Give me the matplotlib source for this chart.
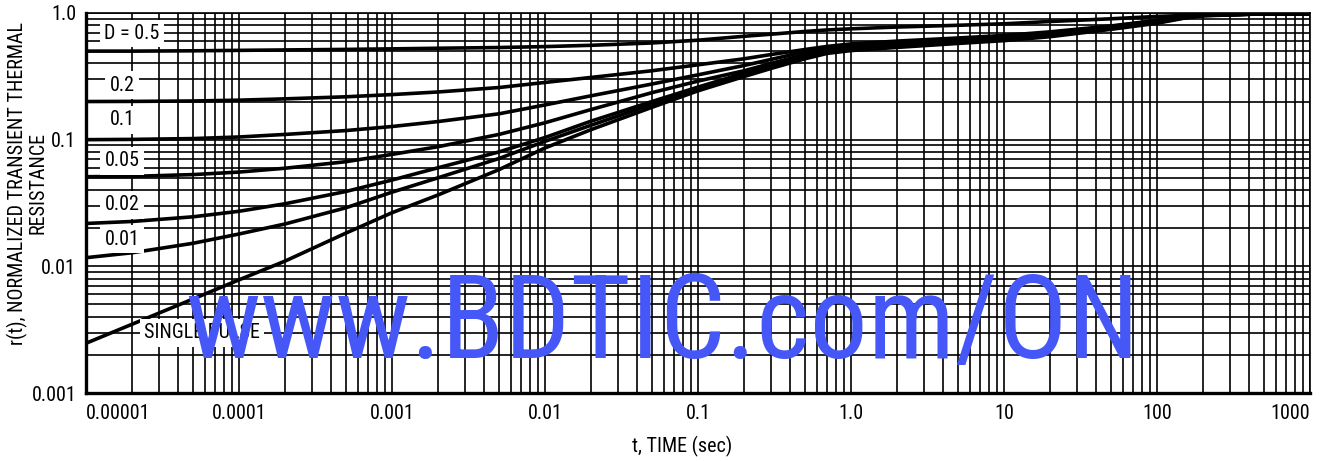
import numpy as np
import matplotlib
matplotlib.use("Agg")
import matplotlib.pyplot as plt
from matplotlib import font_manager as fm
from matplotlib.ticker import LogLocator, NullFormatter

# pick a narrow sans if one is installed, otherwise Arial-like Liberation Sans
avail = {f.name for f in fm.fontManager.ttflist}
FONT = 'Liberation Sans'
SCALE = 1.0
for cand in ['Liberation Sans Narrow', 'Arial Narrow', 'Roboto Condensed']:
    if cand in avail:
        FONT = cand
        SCALE = 1.15
        break
plt.rcParams['font.family'] = [FONT, 'DejaVu Sans']

# time axis (sec) and r(t) for each duty cycle
t = [1e-5, 2e-5, 5e-5, 1e-4, 2e-4, 5e-4, 1e-3, 2e-3, 5e-3, 1e-2, 2e-2, 5e-2,
     0.1, 0.2, 0.3, 0.5, 0.7, 1, 2, 5, 10, 20, 50, 100, 150, 200, 500, 1000]
r_d50 = [0.500, 0.500, 0.503, 0.507, 0.511, 0.516, 0.521, 0.527, 0.534, 0.543, 0.556, 0.58,
         0.61, 0.655, 0.68, 0.715, 0.735, 0.75, 0.775, 0.80, 0.822, 0.857, 0.90, 0.94, 0.955, 0.97, 0.985, 0.985]
r_d20 = [0.200, 0.2005, 0.202, 0.205, 0.210, 0.218, 0.227, 0.238, 0.258, 0.283, 0.31, 0.35,
         0.39, 0.435, 0.47, 0.515, 0.545, 0.57, 0.60, 0.635, 0.665, 0.71, 0.79, 0.875, 0.935, 0.965, 0.985, 0.985]
r_d10 = [0.100, 0.1005, 0.102, 0.105, 0.110, 0.118, 0.127, 0.139, 0.160, 0.188, 0.222, 0.275,
         0.325, 0.385, 0.43, 0.495, 0.532, 0.56, 0.59, 0.625, 0.655, 0.70, 0.782, 0.87, 0.93, 0.962, 0.985, 0.985]
r_d05 = [0.051, 0.0513, 0.053, 0.0555, 0.0595, 0.067, 0.0765, 0.088, 0.110, 0.136, 0.173, 0.235,
         0.29, 0.35, 0.40, 0.47, 0.515, 0.545, 0.575, 0.615, 0.645, 0.69, 0.773, 0.86, 0.925, 0.96, 0.985, 0.985]
r_d02 = [0.0218, 0.0226, 0.0246, 0.0272, 0.0312, 0.0390, 0.0480, 0.060, 0.080, 0.104, 0.140, 0.20,
         0.26, 0.335, 0.385, 0.455, 0.50, 0.53, 0.56, 0.60, 0.63, 0.675, 0.763, 0.85, 0.92, 0.958, 0.985, 0.985]
r_d01 = [0.0117, 0.0128, 0.0152, 0.0180, 0.0216, 0.0290, 0.0385, 0.050, 0.071, 0.097, 0.13, 0.19,
         0.252, 0.325, 0.375, 0.445, 0.49, 0.52, 0.55, 0.59, 0.62, 0.665, 0.753, 0.84, 0.915, 0.955, 0.985, 0.985]
r_single = [0.00247, 0.00349, 0.00552, 0.00782, 0.0110, 0.0183, 0.0265, 0.0366, 0.058, 0.086, 0.12, 0.18,
            0.243, 0.315, 0.365, 0.435, 0.48, 0.505, 0.535, 0.575, 0.605, 0.65, 0.743, 0.83, 0.91, 0.95, 0.985, 0.985]

curves = [r_d50, r_d20, r_d10, r_d05, r_d02, r_d01, r_single]
curve_labels = ['D = 0.5', '0.2', '0.1', '0.05', '0.02', '0.01', 'SINGLE PULSE']

xticks = [1e-5, 1e-4, 1e-3, 1e-2, 1e-1, 1, 10, 100, 1000]
xtick_labels = ['0.00001', '0.0001', '0.001', '0.01', '0.1', '1.0', '10', '100', '1000']
yticks = [0.001, 0.01, 0.1, 1.0]
ytick_labels = ['0.001', '0.01', '0.1', '1.0']

W, H = 1328, 461
fig = plt.figure(figsize=(W / 100, H / 100), dpi=100)
ax = fig.add_axes([86 / W, 68 / H, 1224 / W, 380 / H])
ax.set_xscale('log')
ax.set_yscale('log')
ax.set_xlim(1e-5, 1e3)
ax.set_ylim(1e-3, 1.0)

for r in curves:
    ax.plot(t, r, color='black', lw=2.6, zorder=3, solid_joinstyle='round')

fs = 12.5 * SCALE
ax.xaxis.set_minor_locator(LogLocator(base=10, subs=np.arange(2, 10), numticks=100))
ax.yaxis.set_minor_locator(LogLocator(base=10, subs=np.arange(2, 10), numticks=100))
ax.xaxis.set_minor_formatter(NullFormatter())
ax.yaxis.set_minor_formatter(NullFormatter())
ax.set_xticks(xticks)
ax.set_xticklabels(xtick_labels, fontsize=fs)
ax.set_yticks(yticks)
ax.set_yticklabels(ytick_labels, fontsize=fs)
xl = ax.get_xticklabels()
xl[0].set_ha('left')
xl[-1].set_ha('right')
ax.tick_params(which='both', length=0)
ax.tick_params(axis='x', pad=8)
ax.tick_params(axis='y', pad=7)

ax.grid(which='both', color='black', lw=1.2, zorder=1)
ax.set_axisbelow(True)
for s in ['left', 'bottom']:
    ax.spines[s].set_linewidth(2.4)
for s in ['top', 'right']:
    ax.spines[s].set_linewidth(1.2)

# curve labels in white boxes
label_pos = [(2.0e-5, 0.69), (1.72e-5, 0.27), (1.72e-5, 0.143), (1.72e-5, 0.068),
             (1.72e-5, 0.0305), (1.72e-5, 0.0164), (5.7e-5, 0.00298)]
for (x, y), txt in zip(label_pos, curve_labels):
    ax.text(x, y, txt, fontsize=fs, ha='center', va='center', zorder=5,
            bbox=dict(facecolor='white', edgecolor='none', pad=3))

fig.text(682 / W, 1 - 446 / H, 't, TIME (sec)', fontsize=fs, ha='center', va='center')
ylab = fig.text(27 / W, 1 - 183 / H, 'r(t), NORMALIZED TRANSIENT THERMAL\nRESISTANCE',
                fontsize=fs, rotation=90, ha='center', va='center', multialignment='center',
                linespacing=1.0)

# watermark
wm = fig.text(185 / W, 1 - 358 / H, 'www.BDTIC.com/ON', fontsize=80, color='#4657f7',
              ha='left', va='baseline', zorder=10)

# fit the long texts to the widths they take in the original
renderer = fig.canvas.get_renderer()
bb = wm.get_window_extent(renderer)
wm.set_fontsize(80 * 955 / bb.width)
bb = ylab.get_window_extent(renderer)
if bb.height > 345:
    ylab.set_fontsize(fs * 345 / bb.height)

fig.savefig('out.png', dpi=100)
